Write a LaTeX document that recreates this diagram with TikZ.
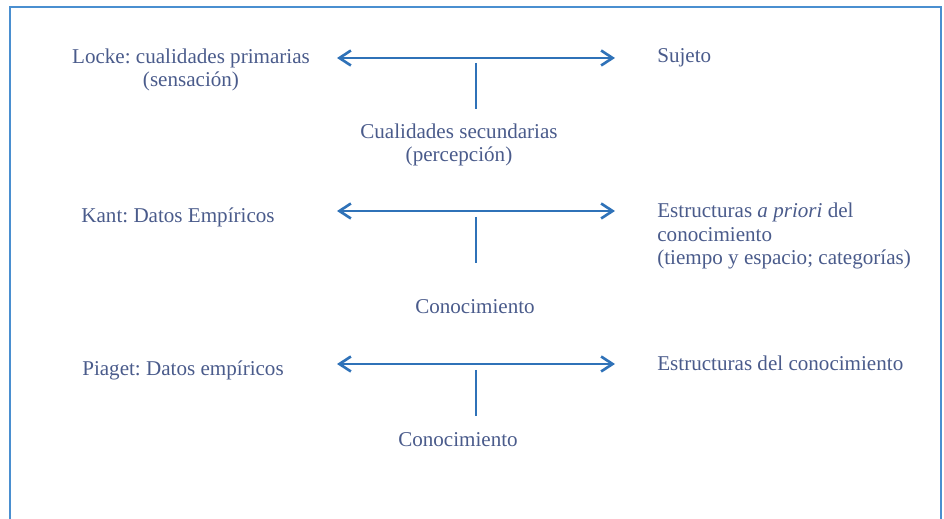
\documentclass[tikz,border=0pt]{standalone}
\usepackage{fontspec}
\setmainfont{Liberation Serif}
\usetikzlibrary{arrows.meta}
\definecolor{textblue}{HTML}{4A5B8B}
\definecolor{arrowblue}{HTML}{2F72B8}
\definecolor{frameblue}{HTML}{4A8FD0}
\frenchspacing
\tikzset{
  txt/.style={text=textblue, font=\fontsize{12}{13.5}\selectfont, inner sep=0pt},
  relation/.style={draw=arrowblue, line width=1.2pt,
    {Straight Barb[length=2.3mm,width=3mm,line width=1.5pt]}-{Straight Barb[length=2.3mm,width=3mm,line width=1.5pt]}},
  stem/.style={draw=arrowblue, line width=0.9pt},
}
\begin{document}
\begin{tikzpicture}[x=0.02cm,y=-0.02cm]
\useasboundingbox (0,0) rectangle (944,519);
\draw[frameblue, line width=0.9pt] (10,519) -- (10,7) -- (941,7) -- (941,519);

\begin{scope}
\node[txt, align=center] (locke) at (191,70) {Locke: cualidades primarias\\(sensación)};
\node[txt, anchor=west] (sujeto) at (657,58) {Sujeto};
\node[txt, align=center] (secund) at (459,145) {Cualidades secundarias\\(percepción)};
\coordinate (lockeL) at (337,58);
\coordinate (lockeR) at (615,58);
\coordinate (lockeT) at (476,63);
\coordinate (lockeB) at (476,109);
\draw[relation] (lockeL) -- (lockeR) ;
\draw[stem] (lockeT) -- (lockeB) ;
\end{scope}

\begin{scope}[shift = {(0,153)}]
\node[txt] (kant) at (178,64) {Kant: Datos Empíricos};
\node[txt, anchor=west, align=left] (apriori) at (657,83) {Estructuras \emph{a priori} del\\conocimiento\\(tiempo y espacio; categorías)};
\node[txt] (kantcon) at (475,154) {Conocimiento};
\coordinate (kantL) at (337,58);
\coordinate (kantR) at (615,58);
\coordinate (kantT) at (476,64);
\coordinate (kantB) at (476,110);
\draw[relation] (kantL) -- (kantR) ;
\draw[stem] (kantT) -- (kantB) ;
\end{scope}

\begin{scope}[shift = {(0,306)}]
\node[txt] (piaget) at (183,64) {Piaget: Datos empíricos};
\node[txt, anchor=west] (estruct) at (657,57) {Estructuras del conocimiento};
\node[txt] (piagetcon) at (458,134) {Conocimiento};
\coordinate (piagetL) at (337,58);
\coordinate (piagetR) at (615,58);
\coordinate (piagetT) at (476,64);
\coordinate (piagetB) at (476,110);
\draw[relation] (piagetL) -- (piagetR) ;
\draw[stem] (piagetT) -- (piagetB) ;
\end{scope}
\end{tikzpicture}
\end{document}
